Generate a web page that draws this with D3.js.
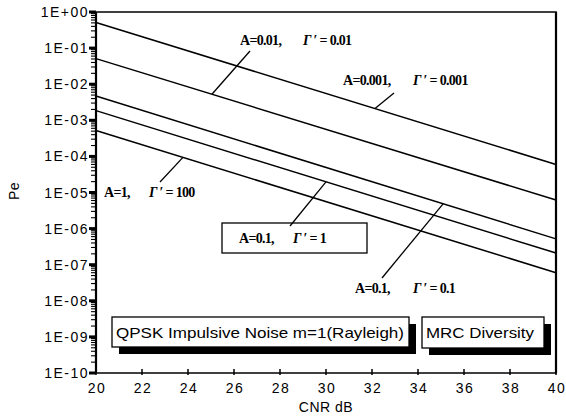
<!DOCTYPE html>
<html>
<head>
<meta charset="utf-8">
<script src="https://cdn.jsdelivr.net/npm/d3@7"></script>
<style>
  body { margin: 0; background: #fff; }
  svg { display: block; }
  .tick-label { font-family: "Liberation Sans", Arial, sans-serif; font-size: 14px; letter-spacing: 1.5px; }
  .note { font-family: "Liberation Serif", "Times New Roman", serif; font-size: 14px; font-weight: bold; letter-spacing: -0.7px; }
  .box-text { font-family: "Liberation Sans", Arial, sans-serif; font-size: 15px; }
</style>
</head>
<body>
<svg width="566" height="419"></svg>
<script>
// CNR (dB) at both ends of the curves
var cnr = [20, 40];
// Pe for each curve, top to bottom
var pe_a0001 = [5.1e-1, 6.0e-5];   // A=0.001, G'=0.001
var pe_a001  = [5.1e-2, 6.2e-6];   // A=0.01,  G'=0.01
var pe_a01g01 = [4.7e-3, 5.2e-7];  // A=0.1,   G'=0.1
var pe_a01g1 = [1.85e-3, 2.1e-7];  // A=0.1,   G'=1
var pe_a1    = [5.2e-4, 6.0e-8];   // A=1,     G'=100

var xTicks = [20, 22, 24, 26, 28, 30, 32, 34, 36, 38, 40];
var yTicks = [1e0, 1e-1, 1e-2, 1e-3, 1e-4, 1e-5, 1e-6, 1e-7, 1e-8, 1e-9, 1e-10];
var yTickLabels = ["1E+00", "1E-01", "1E-02", "1E-03", "1E-04", "1E-05", "1E-06", "1E-07", "1E-08", "1E-09", "1E-10"];

var series = [
  {pe: pe_a0001,  a: "A=0.001,", g: " \u2032 = 0.001", at: 32.13},
  {pe: pe_a001,   a: "A=0.01,",  g: " \u2032 = 0.01",  at: 25.04},
  {pe: pe_a01g01, a: "A=0.1,",   g: " \u2032 = 0.1",   at: 35.09},
  {pe: pe_a01g1,  a: "A=0.1,",   g: " \u2032 = 1",     at: 30.0},
  {pe: pe_a1,     a: "A=1,",     g: " \u2032 = 100",   at: 23.78}
];

// label layout (pixels): A-text x, Gamma x, baseline, leader end near the label
var notes = [
  {ax: 343, gx: 413, y: 85,  lx: 394, ly: 93},
  {ax: 240, gx: 303, y: 45,  lx: 250, ly: 51},
  {ax: 355, gx: 413, y: 293, lx: 382, ly: 278},
  {ax: 239, gx: 293, y: 243, lx: 290, ly: 226, box: [222, 223, 145, 30]},
  {ax: 104, gx: 149, y: 197, lx: 160, ly: 182}
];

var svg = d3.select("svg");
var margin = {left: 96, right: 10, top: 12, bottom: 46};
var width = +svg.attr("width"), height = +svg.attr("height");

var x = d3.scaleLinear().domain([20, 40]).range([margin.left, width - margin.right]);
var y = d3.scaleLog().domain([1e-10, 1]).range([height - margin.bottom, margin.top]);

// frame
svg.append("rect")
  .attr("x", x(20)).attr("y", y(1))
  .attr("width", x(40) - x(20)).attr("height", y(1e-10) - y(1))
  .attr("fill", "none").attr("stroke", "#000").attr("stroke-width", 1.5);
svg.append("line").attr("x1", x(20)).attr("x2", x(20)).attr("y1", y(1)).attr("y2", y(1e-10))
  .attr("stroke", "#000").attr("stroke-width", 2.2);
svg.append("line").attr("x1", x(40)).attr("x2", x(40)).attr("y1", y(1)).attr("y2", y(1e-10))
  .attr("stroke", "#000").attr("stroke-width", 2.2);

// y axis minor + major ticks
var minor = [];
for (var e = -10; e < 0; e++) {
  for (var m = 2; m <= 9; m++) minor.push(m * Math.pow(10, e));
}
svg.append("g").selectAll("line").data(minor).enter().append("line")
  .attr("x1", x(20) - 5).attr("x2", x(20))
  .attr("y1", function(d) { return y(d); }).attr("y2", function(d) { return y(d); })
  .attr("stroke", "#000").attr("stroke-width", 1.1);
svg.append("g").selectAll("line").data(yTicks).enter().append("line")
  .attr("x1", x(20) - 7).attr("x2", x(20))
  .attr("y1", function(d) { return y(d); }).attr("y2", function(d) { return y(d); })
  .attr("stroke", "#000").attr("stroke-width", 3);
svg.append("g").selectAll("text").data(yTicks).enter().append("text")
  .attr("class", "tick-label")
  .attr("x", x(20) - 7).attr("y", function(d) { return y(d) + 5; })
  .attr("text-anchor", "end")
  .text(function(d, i) { return yTickLabels[i]; });

// x axis ticks
svg.append("g").selectAll("line").data(xTicks).enter().append("line")
  .attr("x1", function(d) { return x(d); }).attr("x2", function(d) { return x(d); })
  .attr("y1", y(1e-10) - 4).attr("y2", y(1e-10) + 2)
  .attr("stroke", "#000").attr("stroke-width", 1.5);
svg.append("g").selectAll("text").data(xTicks).enter().append("text")
  .attr("class", "tick-label")
  .attr("x", function(d) { return x(d) + 1; }).attr("y", y(1e-10) + 20)
  .attr("text-anchor", "middle")
  .text(function(d) { return d; });

svg.append("text").attr("class", "tick-label")
  .attr("x", (x(20) + x(40)) / 2).attr("y", 412)
  .attr("text-anchor", "middle").style("letter-spacing", "0.5px")
  .text("CNR dB");
svg.append("text").attr("class", "tick-label")
  .attr("transform", "translate(19,191) rotate(-90)")
  .attr("text-anchor", "middle").style("letter-spacing", "0.5px")
  .text("Pe");

// curves
var line = d3.line()
  .x(function(d) { return x(d[0]); })
  .y(function(d) { return y(d[1]); });
svg.append("g").selectAll("path").data(series).enter().append("path")
  .attr("d", function(s) { return line(cnr.map(function(c, i) { return [c, s.pe[i]]; })); })
  .attr("fill", "none").attr("stroke", "#000").attr("stroke-width", 1.5);

// point on a curve at a given CNR (straight in log space)
function onCurve(s, c) {
  var t = (c - cnr[0]) / (cnr[1] - cnr[0]);
  var lg = Math.log10(s.pe[0]) + t * (Math.log10(s.pe[1]) - Math.log10(s.pe[0]));
  return [x(c), y(Math.pow(10, lg))];
}

// annotations
series.forEach(function(s, i) {
  var n = notes[i];
  var p = onCurve(s, s.at);
  if (n.box) {
    svg.append("rect").attr("x", n.box[0]).attr("y", n.box[1])
      .attr("width", n.box[2]).attr("height", n.box[3])
      .attr("fill", "#fff").attr("stroke", "#000").attr("stroke-width", 1.3);
  }
  svg.append("line").attr("x1", n.lx).attr("y1", n.ly).attr("x2", p[0]).attr("y2", p[1])
    .attr("stroke", "#000").attr("stroke-width", 1.3);
  svg.append("text").attr("class", "note").attr("x", n.ax).attr("y", n.y).text(s.a);
  var g = svg.append("text").attr("class", "note").attr("x", n.gx).attr("y", n.y);
  g.append("tspan").style("font-style", "italic").text("\u0393");
  g.append("tspan").text(s.g);
});

// shadowed boxes
var boxes = [
  {x: 112, y: 317, w: 297, h: 30, text: "QPSK  Impulsive Noise  m=1(Rayleigh)", tl: 288},
  {x: 422, y: 317, w: 122, h: 31, text: "MRC  Diversity", tl: 108}
];
boxes.forEach(function(b) {
  svg.append("rect").attr("x", b.x + 7).attr("y", b.y + 7).attr("width", b.w).attr("height", b.h)
    .attr("fill", "#000");
  svg.append("rect").attr("x", b.x).attr("y", b.y).attr("width", b.w).attr("height", b.h)
    .attr("fill", "#fff").attr("stroke", "#000").attr("stroke-width", 1.3);
  svg.append("text").attr("class", "box-text")
    .attr("x", b.x + 4).attr("y", b.y + 21)
    .attr("textLength", b.tl).attr("lengthAdjust", "spacingAndGlyphs")
    .text(b.text);
});
</script>
</body>
</html>
